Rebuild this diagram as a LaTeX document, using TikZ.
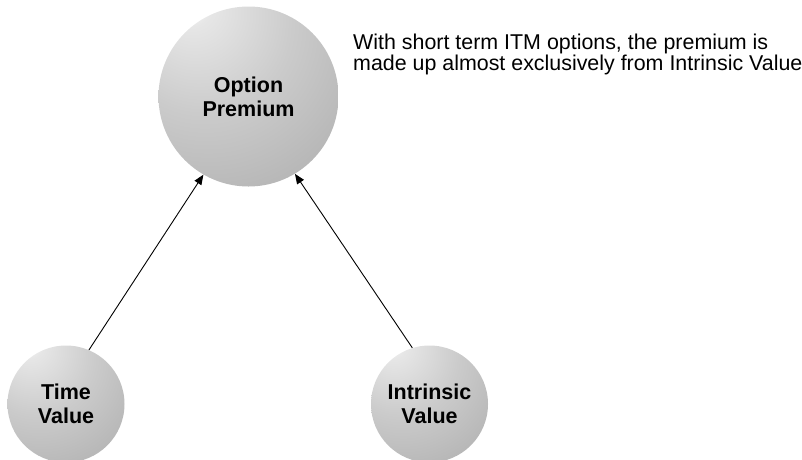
\documentclass[tikz,border=0pt]{standalone}
\usepackage{fontspec}
\setmainfont{Liberation Sans}
\usetikzlibrary{arrows.meta}
\definecolor{sw0}{HTML}{FCFCFC}
\definecolor{sw1}{HTML}{E6E6E6}
\definecolor{sw2}{HTML}{CBCBCB}
\definecolor{sw3}{HTML}{B5B5B5}
\definecolor{sw4}{HTML}{959595}
\definecolor{sw5}{HTML}{707070}
\pgfdeclareradialshading{sphere}{\pgfpoint{-17bp}{27bp}}{%
  color(0bp)=(sw0); color(6bp)=(sw1); color(25bp)=(sw2);
  color(45bp)=(sw3); color(65bp)=(sw4); color(82bp)=(sw5); color(100bp)=(sw5)}
\tikzset{
  ball/.style={circle, inner sep=0pt, shading=sphere, align=center,
    font=\fontsize{21.5}{24}\selectfont\bfseries},
  arr/.style={line width=0.9pt, -{Triangle[length=10pt,width=8pt]}},
  note/.style={inner sep=0pt, font=\fontsize{21.4}{21}\selectfont}
}
\begin{document}
\begin{tikzpicture}[x=1pt,y=-1pt]
\clip (0,0) rectangle (802,459);
\node[ball, minimum size=180pt] (op) at (248.5,96.5) {Option\\Premium};
\node[ball, minimum size=117pt] (tv) at (66,404) {Time\\Value};
\node[ball, minimum size=117pt] (iv) at (429.5,404) {Intrinsic\\Value};
\draw[arr] (tv.67.8) -- (op.240.5);
\draw[arr] (iv.107) -- (op.-59);
\node[note, anchor=base west] (t1) at (353,49.5) {With short term ITM options, the premium is};
\node[note, anchor=base west] (t2) at (353,70.5) {made up almost exclusively from Intrinsic Value};
\end{tikzpicture}
\end{document}
